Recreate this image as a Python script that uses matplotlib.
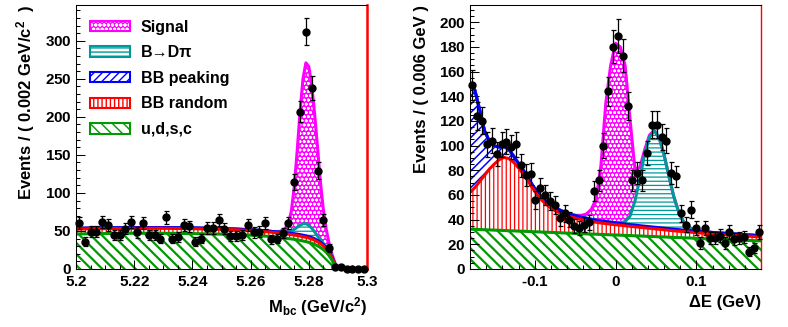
import numpy as np
import matplotlib.pyplot as plt
from matplotlib.patches import Patch
from matplotlib.legend_handler import HandlerTuple
from matplotlib.ticker import MultipleLocator, FuncFormatter

plt.rcParams['font.family'] = ['Liberation Sans', 'DejaVu Sans']
plt.rcParams['font.weight'] = 'bold'
plt.rcParams['mathtext.fontset'] = 'custom'
plt.rcParams['mathtext.rm'] = 'Liberation Sans:bold'
plt.rcParams['mathtext.it'] = 'Liberation Sans:bold'
plt.rcParams['mathtext.bf'] = 'Liberation Sans:bold'
plt.rcParams['axes.linewidth'] = 0.75

# ---------------- M_bc projection (50 bins of 2 MeV) ----------------
mbc_range = (5.2, 5.3)
mbc_counts = [61, 36, 49, 49, 62, 58, 45, 45, 53, 62,
              48, 61, 45, 45, 40, 68, 40, 42, 58, 56,
              36, 40, 54, 54, 64, 53, 43, 43, 45, 58,
              48, 49, 61, 39, 40, 47, 61, 114, 207, 312,
              238, 129, 64, 28, 3, 2, 0, 0, 0, 0]

# fit curves (stacked tops)
mbc_grid = [5.200, 5.205, 5.210, 5.215, 5.220, 5.225, 5.230, 5.235, 5.240,
            5.245, 5.250, 5.255, 5.260, 5.263, 5.266, 5.268, 5.270, 5.271,
            5.272, 5.273, 5.274, 5.275, 5.276, 5.277, 5.278, 5.279, 5.280,
            5.281, 5.282, 5.283, 5.284, 5.285, 5.286, 5.287, 5.288, 5.289,
            5.290, 5.291, 5.300]
mbc_udsc = [46.0, 46.3, 46.6, 46.8, 47.0, 47.0, 47.0, 46.8, 46.5, 46.2, 45.8,
            45.2, 44.5, 43.8, 43.0, 42.3, 41.5, 41.0, 40.5, 40.0, 39.5, 39.0,
            38.3, 37.6, 36.8, 36.0, 35.0, 33.8, 32.3, 30.5, 28.3, 25.5, 22.0,
            17.5, 11.5, 4.0, 0.0, 0.0, 0.0]
mbc_random = [52.5, 52.8, 53.1, 53.3, 53.5, 53.5, 53.5, 53.3, 53.0, 52.6, 52.2,
              51.5, 50.5, 49.7, 48.8, 48.0, 47.2, 46.7, 46.2, 45.7, 45.2, 44.7,
              44.0, 43.3, 42.5, 41.7, 40.7, 39.4, 37.8, 35.8, 33.4, 30.4, 26.6,
              21.6, 14.6, 5.5, 0.5, 0.0, 0.0]
mbc_peaking = [53.5, 53.8, 54.1, 54.3, 54.5, 54.5, 54.5, 54.3, 54.0, 53.6, 53.2,
               52.5, 51.5, 50.7, 49.8, 49.1, 48.4, 48.0, 47.6, 47.2, 46.8, 46.4,
               45.8, 45.2, 44.4, 43.6, 42.6, 41.3, 39.7, 37.6, 35.1, 32.0, 28.0,
               22.8, 15.5, 6.0, 0.6, 0.0, 0.0]
mbc_bdpi = [53.5, 53.8, 54.1, 54.3, 54.5, 54.5, 54.5, 54.3, 54.0, 53.6, 53.2,
            52.5, 51.5, 50.7, 49.8, 49.1, 48.5, 48.3, 48.3, 48.8, 50.0, 52.2,
            54.8, 57.6, 59.4, 59.6, 57.6, 53.7, 48.7, 43.4, 38.3, 33.6, 29.3,
            23.4, 15.8, 6.1, 0.6, 0.0, 0.0]
mbc_total = [53.5, 53.8, 54.1, 54.3, 54.5, 54.5, 54.5, 54.3, 54.0, 53.6, 53.2,
             52.5, 51.5, 50.7, 49.8, 49.1, 49.4, 50.9, 54.0, 60.0, 76.0, 108.0,
             155.0, 207.0, 250.0, 271.0, 266.0, 242.0, 204.0, 160.0, 114.0, 78.0,
             52.0, 33.0, 19.0, 8.0, 1.5, 0.3, 0.0]

# ---------------- Delta E projection (60 bins of 6 MeV) ----------------
de_range = (-0.18, 0.18)
de_counts = [149, 124, 120, 101, 104, 93, 101, 103, 99, 101,
             84, 76, 77, 56, 66, 60, 55, 52, 41, 45,
             40, 35, 33, 36, 38, 63, 72, 100, 144, 180,
             189, 173, 132, 72, 78, 72, 94, 117, 117, 107,
             104, 78, 75, 45, 36, 48, 33, 21, 33, 25,
             25, 27, 21, 30, 24, 25, 26, 14, 17, 30]

de_udsc = [32.3, 32.2, 32.0, 31.8, 31.7, 31.5, 31.4, 31.2, 31.0, 30.9,
           30.7, 30.6, 30.4, 30.2, 30.1, 29.9, 29.8, 29.6, 29.5, 29.3,
           29.1, 29.0, 28.8, 28.7, 28.5, 28.3, 28.2, 28.0, 27.9, 27.7,
           27.6, 27.4, 27.2, 27.1, 26.9, 26.8, 26.6, 26.4, 26.3, 26.1,
           26.0, 25.8, 25.6, 25.5, 25.3, 25.2, 25.0, 24.8, 24.7, 24.5,
           24.4, 24.2, 24.0, 23.9, 23.7, 23.6, 23.4, 23.2, 23.1, 22.9,
           22.8]
de_random = [62.0, 66.0, 71.0, 76.0, 81.0, 85.0, 88.5, 90.5, 89.5, 86.5,
             82.0, 77.0, 71.0, 65.0, 59.5, 55.0, 51.5, 48.5, 46.5, 44.7,
             43.3, 42.0, 41.0, 40.0, 39.2, 38.5, 37.9, 37.3, 36.8, 36.3,
             35.9, 35.5, 35.0, 34.6, 34.2, 33.8, 33.4, 33.0, 32.6, 32.2,
             31.8, 31.4, 31.0, 30.6, 30.3, 30.0, 29.7, 29.4, 29.1, 28.8,
             28.5, 28.2, 28.0, 27.7, 27.4, 27.2, 27.0, 26.7, 26.5, 26.2,
             26.0]
de_peaking = [150.0, 145.0, 129.0, 112.0, 103.5, 99.8, 98.8, 99.3, 97.0, 91.5,
              85.5, 80.0, 73.5, 67.2, 61.7, 57.2, 53.7, 50.7, 48.7, 46.9,
              45.4, 44.0, 43.0, 42.0, 41.1, 40.3, 39.6, 39.0, 38.4, 37.9,
              37.4, 36.9, 36.4, 36.0, 35.6, 35.1, 34.7, 34.3, 33.9, 33.5,
              33.1, 32.7, 32.3, 31.9, 31.5, 31.2, 30.9, 30.6, 30.3, 30.0,
              29.6, 29.3, 29.1, 28.8, 28.5, 28.3, 28.0, 27.7, 27.5, 27.2,
              27.0]
de_bdpi = [150.0, 145.0, 129.0, 112.0, 103.5, 99.8, 98.8, 99.3, 97.0, 91.5,
           85.5, 80.0, 73.5, 67.2, 61.7, 57.2, 53.7, 50.7, 48.7, 46.9,
           45.4, 44.0, 43.0, 42.0, 41.1, 40.3, 39.6, 39.0, 38.5, 38.0,
           37.6, 37.5, 38.5, 43.0, 55.0, 73.0, 93.0, 107.0, 112.0, 106.4,
           92.8, 75.4, 59.0, 46.5, 38.5, 34.1, 32.0, 30.9, 30.3, 30.0,
           29.6, 29.3, 29.1, 28.8, 28.5, 28.3, 28.0, 27.7, 27.5, 27.2,
           27.0]
de_total = [150.0, 145.0, 129.0, 112.0, 103.5, 99.8, 98.8, 99.3, 97.0, 91.5,
            85.5, 80.0, 73.5, 67.2, 61.7, 57.2, 53.7, 50.7, 48.7, 46.9,
            45.4, 44.0, 43.5, 43.5, 44.6, 48.3, 56.6, 84.0, 134.5, 165.0,
            183.0, 180.0, 164.5, 121.0, 81.5, 82.0, 96.5, 108.5, 112.5, 106.4,
            92.8, 75.4, 59.0, 46.5, 38.5, 34.1, 32.0, 30.9, 30.3, 30.0,
            29.6, 29.3, 29.1, 28.8, 28.5, 28.3, 28.0, 27.7, 27.5, 27.2,
            27.0]

# component styles, bottom of the stack first
SIG, BDPI, PEAK, RAND, UDSC = '#ff00ff', '#009999', '#0000ff', '#ff0000', '#009900'
styles = [
    dict(label='u,d,s,c', color=UDSC, face='white', hcol=UDSC, hatch='\\\\\\', hlw=1.6),
    dict(label='BB random', color=RAND, face='white', hcol=RAND, hatch='||||', hlw=0.9),
    dict(label='BB peaking', color=PEAK, face='white', hcol=PEAK, hatch='////', hlw=1.1),
    dict(label='B\u2192D\u03c0', color=BDPI, face='white', hcol=BDPI, hatch='----', hlw=0.9),
    dict(label='Signal', color=SIG, face=SIG, hcol='white', hatch='oooo', hlw=0.8),
]


def draw_fit(ax, x, levels):
    lower = np.zeros(len(x))
    for top, st in zip(levels, styles):
        top = np.asarray(top, dtype=float)
        with plt.rc_context({'hatch.linewidth': st['hlw']}):
            ax.fill_between(x, lower, top, facecolor=st['face'], edgecolor=st['hcol'],
                            hatch=st['hatch'], linewidth=0, zorder=1)
        lower = top
    # curves: the upper stack first, so lower curves end on top
    for top, st in reversed(list(zip(levels, styles))):
        ax.plot(x, top, color=st['color'], lw=2.2, zorder=2)


def draw_data(ax, lo, hi, counts):
    counts = np.asarray(counts, dtype=float)
    n = len(counts)
    width = (hi - lo) / n
    centers = lo + width * (np.arange(n) + 0.5)
    ax.errorbar(centers, counts, yerr=np.sqrt(counts), fmt='o', color='black',
                ms=5, elinewidth=0.9, capsize=1.8, capthick=0.9, zorder=3,
                clip_on=False)


def bold_number(v, pos=None):
    # tick labels go through mathtext, whose roman font is Liberation Sans Bold
    if abs(v) < 1e-9:
        return '$0$'
    s = f'{v:g}'
    if s.startswith('-'):
        return '-$' + s[1:] + '$'
    return '$' + s + '$'


def style_axes(ax, xmaj, xmin, ymaj, ymin, red_lw):
    ax.xaxis.set_major_locator(MultipleLocator(xmaj))
    ax.xaxis.set_minor_locator(MultipleLocator(xmin))
    ax.yaxis.set_major_locator(MultipleLocator(ymaj))
    ax.yaxis.set_minor_locator(MultipleLocator(ymin))
    ax.xaxis.set_major_formatter(FuncFormatter(bold_number))
    ax.yaxis.set_major_formatter(FuncFormatter(bold_number))
    ax.tick_params(which='both', direction='in', top=False, right=False,
                   width=0.75, labelsize=11)
    ax.tick_params(which='major', length=6.3)
    ax.tick_params(which='minor', length=3.2)
    ax.tick_params(axis='x', pad=4.2)
    ax.tick_params(axis='y', pad=3)
    ax.spines['right'].set_color('red')
    ax.spines['right'].set_linewidth(red_lw)


fig = plt.figure(figsize=(7.88, 3.27), dpi=100)
ax1 = fig.add_axes([76 / 788, 1 - 269 / 327, 291 / 788, 264 / 327])
ax2 = fig.add_axes([470 / 788, 1 - 269 / 327, 291 / 788, 264 / 327])

# left: M_bc
draw_fit(ax1, mbc_grid, [mbc_udsc, mbc_random, mbc_peaking, mbc_bdpi, mbc_total])
draw_data(ax1, *mbc_range, mbc_counts)
ax1.set_xlim(*mbc_range)
ax1.set_ylim(0, 347)
style_axes(ax1, 0.02, 0.005, 50, 10, 1.8)
ax1.set_ylabel('Events / ( 0.002 GeV/c$^{2}$  )', loc='top', fontsize=12,
               fontweight='bold')
ax1.yaxis.set_label_coords(-0.134, 1.0)
ax1.set_xlabel('M$_{bc}$ (GeV/c$^{2}$)', loc='right', fontsize=12,
               fontweight='bold')
ax1.xaxis.set_label_coords(1.0, -0.1)

handles, labels = [], []
for st in reversed(styles):
    if st['label'] == 'Signal':
        h = (Patch(facecolor=SIG, edgecolor='white', hatch=st['hatch'], lw=0),
             Patch(facecolor='none', edgecolor=SIG, lw=1.5))
    else:
        h = Patch(facecolor='white', edgecolor=st['color'], hatch=st['hatch'], lw=1.5)
    handles.append(h)
    labels.append(st['label'])
ax1.legend(handles, labels, handler_map={tuple: HandlerTuple(ndivide=1, pad=0)},
           loc='upper left', bbox_to_anchor=(0.048, 0.944), frameon=False,
           prop={'size': 11.5, 'weight': 'bold'}, handlelength=2.5,
           handleheight=0.63, handletextpad=0.67, labelspacing=0.66,
           borderpad=0, borderaxespad=0)

# right: Delta E
de_grid = np.linspace(de_range[0], de_range[1], len(de_total))
draw_fit(ax2, de_grid, [de_udsc, de_random, de_peaking, de_bdpi, de_total])
draw_data(ax2, *de_range, de_counts)
ax2.set_xlim(*de_range)
ax2.set_ylim(0, 214)
style_axes(ax2, 0.1, 0.02, 20, 5, 1.0)
ax2.set_ylabel('Events / ( 0.006 GeV )', loc='top', fontsize=12, fontweight='bold')
ax2.yaxis.set_label_coords(-0.141, 1.0)
ax2.set_xlabel('\u0394E (GeV)', loc='right', fontsize=12, fontweight='bold')
ax2.xaxis.set_label_coords(1.0, -0.1)

fig.savefig('out.png', dpi=100)
